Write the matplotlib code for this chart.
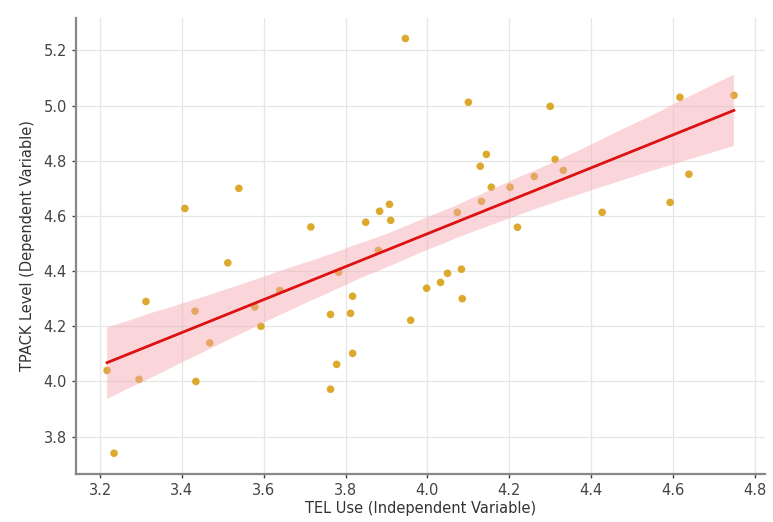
import numpy as np
import matplotlib
matplotlib.use("Agg")
import matplotlib.pyplot as plt
import seaborn as sns

# values
tel_use = [3.217, 3.234, 3.295, 3.312, 3.407, 3.432, 3.434, 3.468, 3.512, 3.539,
           3.578, 3.593, 3.639, 3.715, 3.763, 3.778, 3.763, 3.812, 3.817, 3.817,
           3.783, 3.880, 3.959, 3.998, 4.032, 4.049, 4.083, 4.085, 3.946, 4.100,
           4.144, 4.129, 4.156, 4.202, 4.261, 4.132, 4.073, 4.220, 3.849, 3.883,
           3.907, 3.910, 4.300, 4.312, 4.332, 4.427, 4.593, 4.639, 4.617, 4.749]
tpack = [4.040, 3.740, 4.008, 4.290, 4.627, 4.255, 4.000, 4.140, 4.430, 4.700,
         4.270, 4.200, 4.330, 4.560, 4.243, 4.062, 3.972, 4.247, 4.309, 4.102,
         4.396, 4.475, 4.222, 4.338, 4.359, 4.392, 4.407, 4.300, 5.243, 5.012,
         4.823, 4.780, 4.704, 4.704, 4.743, 4.653, 4.613, 4.559, 4.577, 4.617,
         4.642, 4.584, 4.997, 4.805, 4.765, 4.613, 4.649, 4.751, 5.030, 5.037]

x_label = 'TEL Use (Independent Variable)'
y_label = 'TPACK Level (Dependent Variable)'

fig = plt.figure(figsize=(7.73, 5.22), dpi=100)
ax = fig.add_axes([0.098, 0.092, 0.892, 0.874])

ax.grid(True, color='#e6e6e6', linewidth=0.9)
ax.set_axisbelow(True)

sns.regplot(x=np.array(tel_use), y=np.array(tpack), ax=ax, seed=3,
            scatter_kws={'color': '#DAA520', 's': 30, 'alpha': 0.95, 'edgecolor': 'none'},
            line_kws={'color': '#dd1111', 'linewidth': 2})

# make the confidence band pink like the original
for coll in ax.collections[1:]:
    coll.set_facecolor('#f4a6ae')
    coll.set_alpha(0.45)
    coll.set_edgecolor('none')

ax.set_xticks([3.2, 3.4, 3.6, 3.8, 4.0, 4.2, 4.4, 4.6, 4.8])
ax.set_yticks([3.8, 4.0, 4.2, 4.4, 4.6, 4.8, 5.0, 5.2])
ax.set_xlabel(x_label, fontsize=10.5, color='#333333', labelpad=2)
ax.set_ylabel(y_label, fontsize=10.5, color='#333333', labelpad=6)
ax.tick_params(labelsize=10.5, colors='#444444', length=3, width=1)

for side in ['top', 'right']:
    ax.spines[side].set_visible(False)
for side in ['left', 'bottom']:
    ax.spines[side].set_color('#888888')
    ax.spines[side].set_linewidth(1.6)

fig.savefig('out.png', dpi=100)
